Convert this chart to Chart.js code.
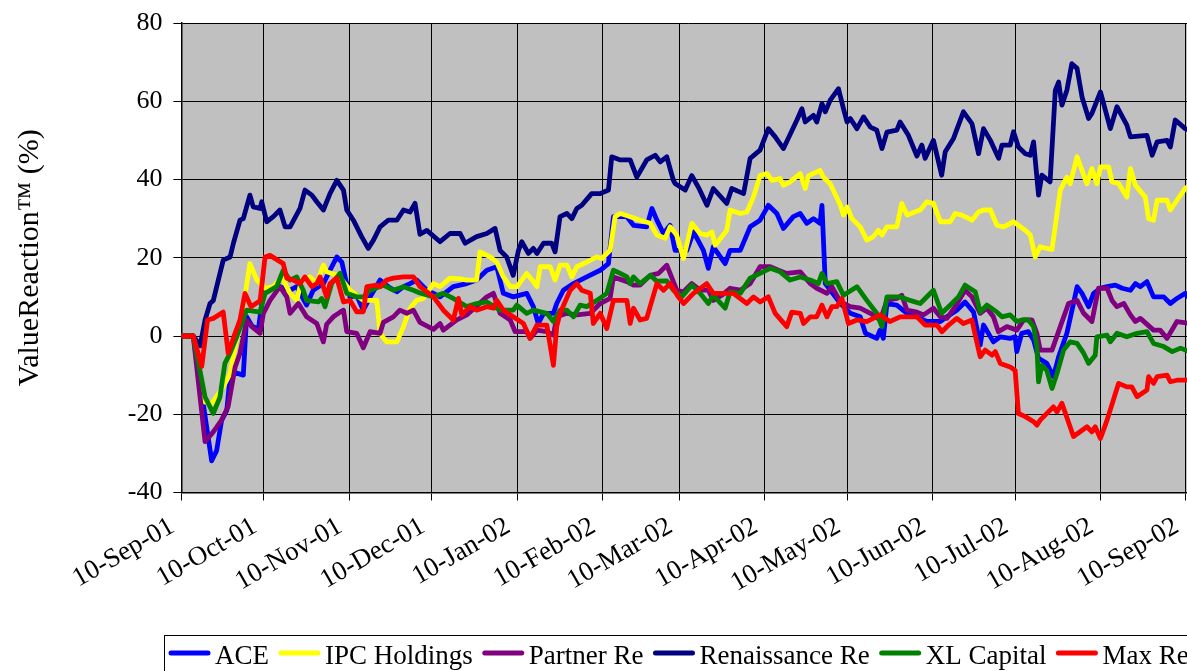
<!DOCTYPE html>
<html>
<head>
<meta charset="utf-8">
<script src="https://cdn.jsdelivr.net/npm/chart.js@4.4.0/dist/chart.umd.min.js"></script>
<style>
    html, body { margin: 0; padding: 0; background: #fff; overflow: hidden; }
    #wrap { width: 1187px; height: 671px; overflow: hidden; position: relative; }
    canvas { display: block; }
</style>
</head>
<body>
<div id="wrap"><canvas id="chart" width="1200" height="700"></canvas></div>
<script>
// x = days since 10-Sep-01, y = ValueReaction (%)
const tickDays = [0, 30, 61, 91, 122, 153, 181, 212, 242, 273, 303, 334, 365];
const tickLabels = ['10-Sep-01', '10-Oct-01', '10-Nov-01', '10-Dec-01', '10-Jan-02', '10-Feb-02',
    '10-Mar-02', '10-Apr-02', '10-May-02', '10-Jun-02', '10-Jul-02', '10-Aug-02', '10-Sep-02'];
const yTicks = [-40, -20, 0, 20, 40, 60, 80];

const ace = [[0,0],[4.3,0],[11,-31.9],[12.8,-29.3],[14.6,-21.6],[16.5,-19],[17.7,-10.4],[20.1,-9.5],[22.5,-10],
    [23.7,4.9],[25.7,2.5],[28,1.8],[29.8,11.5],[35.8,12.6],[39.5,11.7],[41.9,12.6],[45.5,7.9],[47.9,11.7],[51.6,13.4],
    [54,16.8],[56.5,20.2],[58.3,18.9],[59.5,15.1],[61.3,9.9],[63.7,10.4],[66.1,6.6],[68.6,10],[72.2,14.3],[75.2,12.6],
    [78.3,11.3],[80.7,12.6],[83.1,13.4],[85.5,14.3],[89.2,11.7],[91.6,10.9],[94,10],[98.8,12.6],[103.7,13.4],[107.3,14.3],
    [111,16.8],[114.6,17.7],[117,10.9],[120.6,10],[125.5,10.9],[127.9,7.5],[129.7,3.2],[131.6,5.8],[135.2,5.8],[136.4,8.3],
    [138.8,11.7],[142.5,13.4],[147.3,15.1],[152.2,16.8],[155.2,18.5],[157,30.5],[161.9,30.5],[164.3,28.3],[169.1,27.9],
    [171,32.6],[172.8,29.6],[175.2,26.2],[177.6,28.3],[179.4,21.9],[183.7,21.9],[186.1,26.6],[189.7,21.9],[191.5,17.3],
    [193.3,22.8],[197.6,18.5],[199.4,21.9],[203.1,21.9],[206.7,27.9],[210.3,29.6],[213.3,33.4],[216.4,31.3],[218.8,27.5],
    [222.4,30.5],[224.9,31.3],[227.3,28.8],[229.7,30],[232.1,28.8],[232.8,33.4],[234,13.4],[239.5,8.3],[243.1,5.8],
    [246.7,4.9],[248.6,0.7],[252.7,-0.6],[253.9,1.5],[255.1,-0.6],[256.4,8.3],[260,7.9],[263.7,5.8],[267.3,4.9],
    [270.9,3.7],[275.8,3.7],[278.2,4.9],[281.8,6.6],[284.8,8.7],[287.9,6.1],[290.3,-2.3],[291.5,2.8],[295.1,-1.5],
    [297.6,-0.2],[301.2,-0.6],[303,-0.2],[303.6,-4],[305.4,0.7],[307.8,1.1],[309.7,-1],[311.5,-5.7],[314.5,-7],
    [316.9,-10.4],[318.8,-5.3],[321.8,0.7],[324.2,8.3],[325.5,12.6],[327.3,10.9],[329.7,7.5],[331.5,10.9],[334,12.2],
    [336.4,12.6],[339.4,13],[341.9,12.2],[344.9,11.7],[346.7,13.4],[348.5,12.6],[350.9,13.9],[353.3,10],[357,10],
    [359.4,8.3],[361.8,9.6],[364.8,10.9],[366.5,9.5]];

const ipc = [[0,0],[4.3,0],[8,-16.8],[11,-17.3],[15.2,-13],[17.7,-9.6],[19.5,-2.8],[21.9,4.9],[24.9,18.5],[27.4,14.3],
    [30.4,12.2],[33.4,12.6],[36.5,15.1],[39.5,10.9],[41.9,9.1],[43.7,14.3],[46.7,15.1],[49.2,13.4],[51.6,18.1],[52.8,16.4],
    [56.5,15.5],[58.9,13.9],[61.3,11.7],[66.1,9.1],[71,9.1],[72.2,0.7],[74.6,-1.5],[78.3,-1.5],[80.7,2.4],[83.1,7.1],
    [85.5,9.1],[87.9,9.6],[91.6,13.4],[94,12.6],[97.6,14.8],[101.3,14.6],[103.7,14.3],[107.3,14.3],[108.5,21.5],
    [112.2,20.2],[114.6,18.9],[117,15.1],[119.5,12.6],[121.9,12.6],[125.5,16],[127.9,13.9],[129.2,12.6],[130.4,17.7],
    [134,17.7],[135.8,14.3],[137.6,18.1],[140.1,18.1],[141.9,15.1],[143.7,17.7],[147.3,18.9],[151,20.2],[152.8,19.8],
    [155.8,21.9],[157.6,30.5],[159.5,31.3],[163.1,30.5],[166.7,29.6],[170.4,28.8],[172.8,25.8],[175.8,25],[177.6,27.9],
    [180,25.8],[182.5,19.8],[185.5,28.8],[188.5,26.2],[191,25.8],[192.8,26.6],[194,23.2],[198.2,27],[199.4,32.2],
    [203.1,31.3],[205.5,31.7],[207.9,35.5],[210.3,41],[212.8,41.5],[214.6,39.8],[217.6,40.2],[218.8,38.5],[221.2,39.4],
    [224.9,41.5],[226.7,37.7],[227.9,41],[232.1,42.3],[233.3,40.6],[235.8,38.9],[239.5,33.4],[240.6,30.9],[241.9,33],
    [243.7,30],[246.7,27.9],[249.1,24.5],[251.5,25.4],[253.3,27],[254.6,25.8],[256.4,27.9],[260,27.9],[261.8,33.9],
    [263.7,30.9],[268.5,32.2],[270.9,34.3],[273.3,33.9],[275.8,29.2],[279.4,29.2],[281.2,31.3],[283.6,30.9],[287.3,29.6],
    [289.7,31.7],[291.5,32.2],[294,32.2],[296.4,28.3],[298.8,27.9],[302.4,29.2],[304.2,28.3],[306.7,27],[308.5,25.8],
    [310.3,20.2],[312.1,22.8],[316.4,22.1],[319.4,37.3],[321.8,40.6],[323,38.9],[325.5,45.8],[329.1,38.9],[330.9,42.8],
    [332.7,38.9],[334,43.2],[337,43.2],[338.2,39.4],[340.6,39],[343.6,35.5],[344.9,42.8],[346.7,38.5],[350.3,35.5],
    [351.5,30],[353.3,29.6],[354.6,34.7],[358.2,34.7],[359.4,32.2],[361.8,34.7],[364.8,37.7],[366.5,38.5]];

const partnerRe = [[0,0],[4.3,0],[8.6,-27],[11.6,-24.5],[14.6,-21.5],[17,-18],[19.5,-8],[21.3,-4.4],[23.7,4],[25.6,2.4],
    [28.6,0.7],[29.8,5.8],[32.2,9.1],[35.8,12.6],[38.3,10],[39.5,5.8],[42.5,8.3],[45.5,4.9],[49.2,3.2],[51.6,-1.5],
    [52.8,3],[55.2,4.9],[57.7,6.1],[58.9,6.6],[60.1,1.1],[63.7,0.7],[66.1,-3],[68.6,1.1],[72.2,0.7],[73.4,3.5],[77,4.9],
    [79.4,6.6],[81.9,5.8],[84.3,6.6],[86.7,3.5],[91.6,1.7],[94,3.2],[95.2,1.5],[100.1,4.1],[103.7,5.4],[111,10],
    [113.4,10.9],[115.8,5.8],[119.5,4.1],[121.3,1.1],[125.5,1.1],[126.7,-0.6],[129.2,1.5],[132.8,1.1],[135.2,0.2],
    [136.4,4.9],[140.1,5.8],[143.7,5.4],[148.6,5.8],[152.2,8.3],[155.8,9.6],[157,15.1],[161.9,13.9],[164.3,13],[166.7,13],
    [170.4,15.5],[173.4,16],[176.4,18.1],[177.6,16],[180,11.7],[182.5,11.3],[185.5,13.4],[188.5,11.7],[191.5,11.7],
    [193.3,9.1],[196.4,10.4],[199.4,12.2],[203.1,11.7],[206.7,13.4],[210.3,17.7],[214,17.7],[217,16.8],[220,16],
    [224.9,16.4],[228.5,13.4],[230.9,12.2],[234.6,10.9],[236.4,12.6],[239.5,8.7],[243.1,7.5],[246.7,7.1],[250.4,5.8],
    [254,4.1],[256.4,9.1],[260,9.6],[261.8,10.4],[263.7,6.6],[267.3,6.1],[269.7,5.4],[273.3,7.1],[275.8,4.9],[278.2,4.5],
    [281.2,7.5],[284.8,11.7],[287.3,10],[290.3,5.8],[292.7,7.1],[295.1,4.9],[296.9,1.1],[300,2.4],[303.6,1.5],[306.1,4.1],
    [309.1,4.1],[310.9,0.7],[312.1,-3.6],[316.4,-3.6],[319.4,2.4],[322.4,8.3],[325.5,9.1],[327.9,5.8],[330.9,3.7],
    [333.3,12.2],[336.4,12.2],[338.2,9.1],[340,7.5],[342.5,8.3],[344.9,5.4],[346.7,3.7],[348.5,4.5],[353.3,1.5],
    [355.7,1.5],[358.2,-0.6],[361.8,3.7],[366.5,3.2]];

const renaissanceRe = [[0,0],[4.3,0],[6.8,-2.5],[8.6,4.1],[10.4,8.3],[11.6,9.1],[15.2,19.4],[17.7,20.2],[18.9,23.7],
    [21.3,29.6],[22.5,30],[24.9,36],[26.1,33],[28.6,32.6],[29.2,34.3],[31,29.2],[33.4,30.5],[35.8,32.2],[37.7,27.9],
    [39.5,27.9],[43.1,32.6],[44.9,37.3],[47.4,36],[49.2,34.3],[51.6,32.2],[54,36.4],[56.5,39.8],[58.9,37.3],[60.1,32.2],
    [62.5,29.6],[65.5,25.4],[67.9,22.4],[69.8,24.5],[72.2,27.9],[75.2,29.6],[78.3,29.6],[80.7,32.2],[83.1,31.7],
    [84.9,33.9],[86.7,26],[89.2,27],[94,24.1],[97.6,26.2],[101.3,26.2],[103.1,23.7],[107.3,25.4],[111,26.2],[114,27.5],
    [115.8,21.9],[118.2,20.2],[120.6,15.5],[122.5,21.9],[123.7,24.1],[126.1,21.1],[127.9,22.4],[129.2,21.1],[131.6,23.7],
    [134.6,23.7],[135.8,21.5],[137.6,30.5],[140.1,31.3],[141.9,30],[143.7,32.6],[145.5,33.4],[149.1,36.4],[152.2,36.4],
    [155.2,37.3],[156.4,45.8],[159.5,45],[163.1,45],[165.5,40.6],[169.1,45],[172.2,46.2],[174,44.5],[176.4,45.8],
    [178.8,39.8],[179.4,39],[183.1,37.3],[185.5,41],[187.9,38],[191,33.4],[193.3,37.7],[198.2,33.9],[200,37.7],
    [204.3,36.4],[206.7,45.4],[210.3,47.5],[213.3,53],[215.8,50.9],[218.8,47.9],[223.7,55.2],[225.5,58.1],[226.7,54.7],
    [229.7,56.4],[230.9,54.7],[232.8,59.4],[234,57.3],[235.8,60.3],[238.8,63.2],[240.6,58.1],[241.9,54.7],[243.1,55.6],
    [245.5,53],[247.9,56],[250.4,53.4],[252.7,52.6],[254.6,47.9],[256.4,52.1],[260,52.6],[261.2,54.7],[264.2,51.3],
    [267.3,46],[269.1,48.8],[270.3,45.4],[273.3,50],[276.3,41.1],[277.6,47.1],[280.6,50.5],[284.2,57.3],[287.3,54.3],
    [289.7,46.6],[291.5,53],[294,50],[297,45.4],[298.2,48.8],[301.2,48.8],[302.4,52.2],[304.2,48.3],[306.7,46.6],
    [308.5,46.2],[309.7,49.6],[311.5,36],[312.7,41.1],[315.7,39.4],[317.6,62.8],[318.8,64.9],[320,59],[321.8,62.8],
    [323.6,69.6],[325.5,68.4],[327.3,61.1],[329.7,55.6],[330.9,56.9],[334,62.4],[337.6,53],[340,58.6],[343.6,53.9],
    [344.9,50.9],[350.9,51.3],[352.8,46.2],[354.6,49.6],[358.2,50],[359.4,48.3],[361.2,55.2],[364.8,53],[366.5,52.5]];

const xlCapital = [[0,0],[4.3,0],[8.6,-15.6],[11.6,-19.8],[14,-15.6],[15.8,-7],[17.7,-4.4],[20.1,-0.2],[23.7,6.6],
    [28.6,6.1],[30.4,10.9],[34.6,12.6],[37,16.8],[39.5,14.3],[41.9,15.1],[44.3,11.7],[45.5,9.1],[49.8,8.7],[51,9.6],
    [52.2,7.5],[54.6,13.4],[57.7,16],[60.1,10.9],[63.7,10],[66.1,10],[68.6,11.7],[73.4,13],[77,11.7],[80.7,12.6],
    [84.3,11.7],[86.7,11],[91.6,10],[95.2,10.9],[98.8,9.6],[103.7,7.5],[107.3,8.3],[111,8.7],[115.8,6.6],[120.6,6.6],
    [121.9,7.9],[125.5,5.8],[127.9,6.6],[132.8,5.8],[135.2,3.7],[137.6,6.6],[140.1,6.6],[142.5,4.9],[144.9,7.9],
    [147.3,7.5],[151,9.1],[154.6,10.9],[157,16.8],[159.5,16],[161.9,15.1],[163.1,13.4],[164.3,15.1],[166.7,13.4],
    [170.4,15.5],[172.8,14],[176.4,14.1],[178.8,11.7],[181.8,10],[185.5,13],[188.5,10.9],[191.5,8.3],[193.3,10.4],
    [197.6,7.1],[199.4,11.3],[203.1,10.9],[206.7,14.8],[210.3,16],[214,17.3],[217.6,16.4],[221.2,14.3],[224.9,15.1],
    [228.5,14.3],[231.5,13.4],[232.8,16],[234.6,13.4],[238.2,13.9],[240.6,10.4],[245.5,12.6],[249.1,9.1],[252.7,5.8],
    [254.6,2.4],[256.4,10],[261.2,10],[264.8,9.1],[268.5,8.3],[273.3,11.7],[276.3,5.8],[280,8.3],[282.4,10],[284.8,13],
    [288.5,11.3],[290.3,6.1],[292.7,7.9],[296.4,6.1],[298.2,4.9],[301.2,5.4],[303.6,3.7],[305.4,4.1],[307.8,4.1],
    [309.7,2.4],[310.9,-2.7],[311.5,-11.7],[312.7,-7.5],[314.5,-8.8],[316.4,-13.4],[318.2,-9.6],[320.6,-3.6],[323,-1.5],
    [325.5,-1.9],[327.9,-4.4],[329.7,-7],[332.1,-4.9],[332.7,-0.2],[336.4,0.2],[337.6,-1.5],[340,0.7],[343.6,-0.2],
    [347.3,0.7],[350.9,1.1],[353.3,-1.9],[357,-2.7],[360.1,-4],[363.1,-3.1],[366.5,-4]];

const maxRe = [[0,0],[4.3,0],[7.4,-7.8],[9.5,4.1],[11.6,4.5],[15.2,6.1],[17,-4.4],[19.5,0.7],[21.3,4.1],[23.1,10.9],
    [25.3,7.5],[28.6,9],[30.4,20.2],[32.2,20.6],[37,18.5],[38.3,14.8],[40.7,14.3],[43.1,13.4],[44.9,15.1],[47.4,12.6],
    [49.2,13.4],[50.4,15.1],[52.8,10],[54,13.4],[56.5,14.8],[58.9,8.7],[61.3,9.1],[63.7,6.2],[66.1,6.2],[67.4,12.6],
    [71,13],[72.2,12.6],[74.6,14.3],[77,14.8],[80.7,15.1],[84.3,15.1],[86.7,12.6],[91.6,10],[95.2,6.6],[98.8,4.1],
    [100.7,9.6],[101.9,5.4],[104.9,7.5],[107.3,6.6],[111,7.5],[113.4,7.1],[114.6,9.1],[117,6.6],[120.6,4.9],[124.3,3.2],
    [126.7,-0.6],[129.2,2.8],[132.8,2.8],[135.2,-7.5],[136.4,2.4],[137.6,5.8],[141.3,11.7],[143.7,13.4],[145.5,11.7],
    [148.6,10.9],[149.7,3.2],[152.2,5.8],[154.6,1.9],[157,9.1],[161.9,9.1],[163.1,3.2],[164.3,7.1],[166.7,4.1],
    [169.1,4.5],[172.8,13.4],[175.2,11.7],[177.6,13.4],[180.6,10],[182.5,8.3],[186.1,10.9],[190.9,13.4],[193.3,10.9],
    [200.6,10.9],[205.5,8.3],[207.9,10],[210.3,8.7],[213.3,10],[215.8,5.8],[220,2.4],[221.8,6.1],[224.9,5.8],[226.1,3.2],
    [228.5,4.9],[230.9,4.9],[232.8,7.9],[234.6,4.9],[236.4,7.5],[238.2,7.5],[240,9.6],[242.4,3.2],[245.5,4.1],
    [249.1,3.7],[253.9,5.4],[257.5,3.7],[261.2,4.9],[267.3,4.9],[270.3,2.8],[274.6,2.8],[276.4,1.1],[278.8,2.8],
    [281.8,4.5],[284.2,3.2],[287.3,4.1],[288.5,0.2],[290.3,-5.3],[292.1,-3.6],[294.6,-4.9],[295.8,-4],[297.6,-7],
    [301.2,-7.9],[303,-8.8],[304.2,-19.8],[306.7,-20.6],[309.7,-21.9],[310.9,-22.8],[312.1,-21.5],[316.9,-18.1],
    [318.2,-19.4],[320,-17.2],[324.2,-25.7],[329.1,-23.2],[330.9,-24.5],[332.1,-23.2],[334,-26.2],[336.4,-21.5],
    [340.6,-12.1],[343.6,-13],[345.4,-13],[347.3,-15.5],[350.9,-13.8],[351.5,-10.4],[353.3,-12.1],[354.6,-10.4],
    [358.2,-10],[359.4,-11.7],[361.8,-11.3],[366.5,-11.3]];

const seriesNames = ['ACE', 'IPC Holdings', 'Partner Re', 'Renaissance Re', 'XL Capital', 'Max Re'];
const seriesData = [ace, ipc, partnerRe, renaissanceRe, xlCapital, maxRe];
const seriesColors = ['#0000ff', '#ffff00', '#800080', '#000080', '#008000', '#ff0000'];

const SERIF = '"Liberation Serif", "Times New Roman", serif';

// grey plot background like the Excel original
const plotBackground = {
    id: 'plotBackground',
    beforeDraw(chart) {
        const { ctx, chartArea } = chart;
        ctx.save();
        ctx.fillStyle = '#c0c0c0';
        ctx.fillRect(chartArea.left, chartArea.top, chartArea.right - chartArea.left, chartArea.bottom - chartArea.top);
        ctx.restore();
    }
};

// framed one-row legend at the bottom
const boxLegend = {
    id: 'boxLegend',
    afterDraw(chart) {
        const ctx = chart.ctx;
        ctx.save();
        ctx.strokeStyle = '#000';
        ctx.lineWidth = 1;
        ctx.strokeRect(164.5, 635.5, 1100, 80);
        ctx.font = '27px ' + SERIF;
        ctx.textBaseline = 'alphabetic';
        let x = 171;
        const y = 653;
        chart.data.datasets.forEach(ds => {
            ctx.strokeStyle = ds.borderColor;
            ctx.lineWidth = 5;
            ctx.lineCap = 'round';
            ctx.beginPath();
            ctx.moveTo(x, y);
            ctx.lineTo(x + 37, y);
            ctx.stroke();
            x += 44;
            ctx.fillStyle = '#000';
            ctx.fillText(ds.label, x, y + 11);
            x += ctx.measureText(ds.label).width + 12;
        });
        ctx.restore();
    }
};

const datasets = seriesNames.map((name, i) => ({
    label: name,
    data: seriesData[i].map(p => ({ x: p[0], y: p[1] })),
    borderColor: seriesColors[i],
    backgroundColor: seriesColors[i],
    borderWidth: 4.8,
    borderJoinStyle: 'round',
    pointRadius: 0,
    tension: 0,
    fill: false,
    order: seriesNames.length - 1 - i
}));

new Chart(document.getElementById('chart'), {
    type: 'line',
    data: { datasets },
    plugins: [plotBackground, boxLegend],
    options: {
        responsive: false,
        animation: false,
        events: [],
        layout: { padding: { top: 23, right: 6, bottom: 0, left: 0 } },
        plugins: { legend: { display: false }, tooltip: { enabled: false } },
        scales: {
            x: {
                type: 'linear',
                min: 0,
                max: 368,
                afterBuildTicks: scale => { scale.ticks = tickDays.map(v => ({ value: v })); },
                afterFit: scale => {
                    scale.height = 700 - 492.5;
                    scale.paddingLeft = 0;
                    scale.paddingRight = 0;
                },
                ticks: {
                    autoSkip: false,
                    minRotation: 30,
                    maxRotation: 30,
                    padding: 10,
                    labelOffset: -9,
                    color: '#000',
                    font: { family: SERIF, size: 27 },
                    callback: v => tickLabels[tickDays.indexOf(v)]
                },
                grid: { color: '#000', lineWidth: 1, tickLength: 8, tickColor: '#000' },
                border: { color: '#000', width: 1.5 }
            },
            y: {
                min: -40,
                max: 80,
                afterBuildTicks: scale => { scale.ticks = yTicks.map(v => ({ value: v })); },
                afterFit: scale => {
                    scale.width = 181.4;
                    scale.paddingTop = 0;
                    scale.paddingBottom = 0;
                },
                ticks: {
                    color: '#000',
                    padding: 11,
                    font: { family: SERIF, size: 26 }
                },
                grid: { color: '#000', lineWidth: 1, tickLength: 8, tickColor: '#000' },
                border: { color: '#000', width: 1.5 },
                title: {
                    display: true,
                    text: 'ValueReaction™ (%)',
                    color: '#000',
                    padding: { top: 12, bottom: 0 },
                    font: { family: SERIF, size: 30 }
                }
            }
        }
    }
});
</script>
</body>
</html>
